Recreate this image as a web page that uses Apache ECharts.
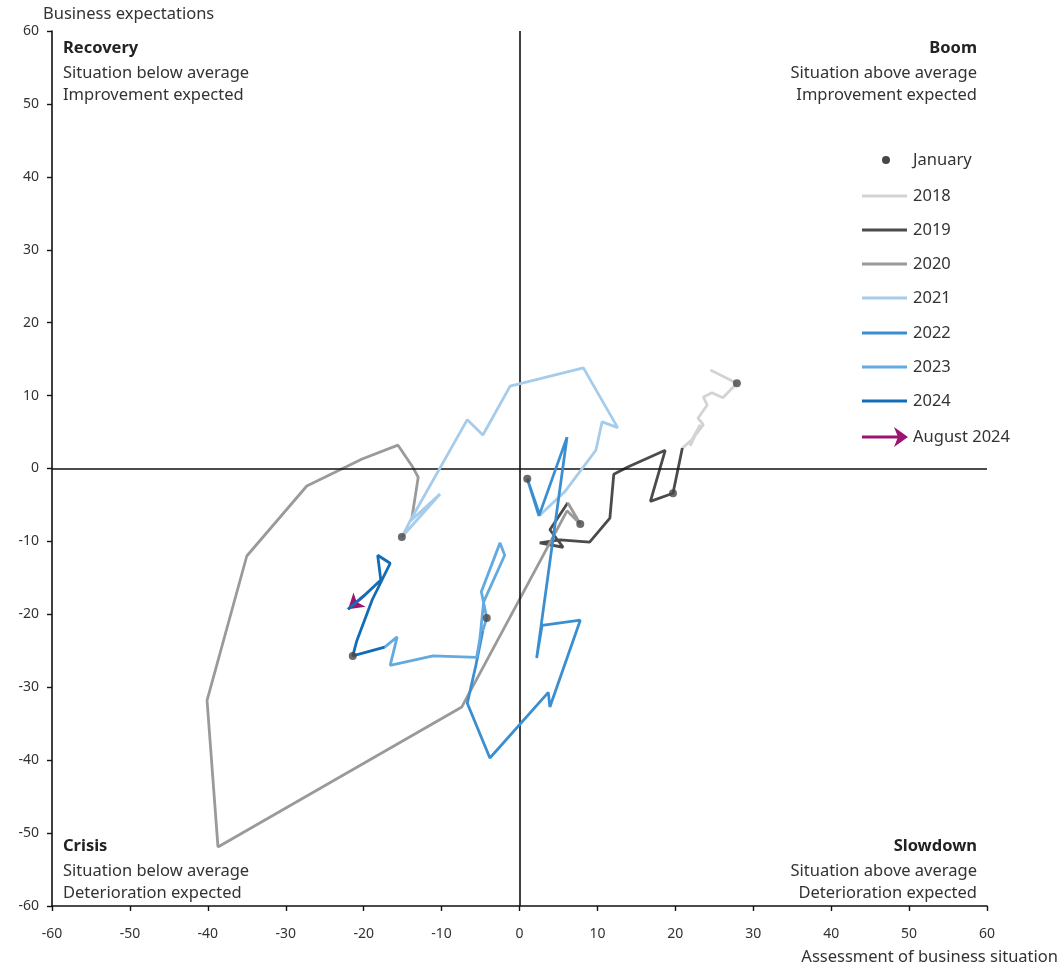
<!DOCTYPE html>
<html><head><meta charset="utf-8">
<script src="https://cdn.jsdelivr.net/npm/echarts@6/dist/echarts.min.js"></script>
<style>html,body{margin:0;padding:0;background:#fff}#c{width:1063px;height:970px}</style>
</head><body><div id="c"></div>
<script>
// [assessment of business situation, business expectations], monthly, Jan..Dec
const dec2017 = [24.5, 13.5];
const y2018 = [[27.9,11.7],[26.1,9.7],[24.7,10.4],[23.6,9.8],[24.1,8.7],[22.9,6.9],[23.6,6.0],[22.1,3.9],[23.2,6.0],[21.9,3.1],[22.4,4.2],[20.9,2.8]];
const y2019 = [[19.7,-3.4],[16.8,-4.5],[18.7,2.5],[13.9,0.2],[12.1,-0.8],[11.6,-6.8],[9.0,-10.1],[5.2,-9.8],[2.6,-10.2],[5.6,-10.8],[3.9,-8.4],[6.2,-4.7]];
const y2020 = [[7.8,-7.6],[6.1,-5.8],[-7.4,-32.7],[-38.7,-51.9],[-40.1,-31.8],[-35.0,-12.0],[-27.3,-2.4],[-20.2,1.3],[-15.6,3.2],[-13.7,0.2],[-13.0,-1.2],[-13.8,-6.7]];
const y2021 = [[-15.1,-9.4],[-10.2,-3.5],[-14.1,-7.3],[-6.7,6.7],[-4.7,4.6],[-1.2,11.3],[8.2,13.8],[12.6,5.6],[10.6,6.4],[9.8,2.5],[5.8,-3.2],[2.6,-6.4]];
const y2022 = [[1.0,-1.4],[2.5,-6.5],[6.1,4.3],[2.2,-26.0],[2.9,-21.5],[7.8,-20.8],[3.9,-32.7],[3.7,-30.7],[-3.8,-39.7],[-6.7,-32.2],[-5.6,-27.0],[-4.7,-22.2]];
const y2023 = [[-4.2,-20.5],[-4.9,-16.9],[-2.5,-10.2],[-1.9,-11.9],[-4.6,-18.3],[-5.1,-23.5],[-5.5,-25.9],[-11.1,-25.7],[-16.6,-27.0],[-15.7,-23.1],[-17.3,-24.5]];
const y2024 = [[-21.4,-25.7],[-20.9,-23.7],[-18.9,-18.0],[-16.6,-13.0],[-18.2,-11.9],[-17.8,-15.3],[-19.9,-17.4],[-22.0,-19.3]];

const years = ['2018','2019','2020','2021','2022','2023','2024'];
const yearData = [y2018, y2019, y2020, y2021, y2022, y2023, y2024];
const yearColors = ['#d3d3d3','#4b4b4b','#9a9a9a','#a5cceb','#3b8fd0','#62aadf','#136db6'];
const arrowColor = '#9c1470';
const janColor = '#474747';
const tickValues = [-60,-50,-40,-30,-20,-10,0,10,20,30,40,50,60];

const FONT = 'Noto Sans';
const TXT = '#333';
const FS = 16.5;

const chart = echarts.init(document.getElementById('c'), null, {renderer:'canvas'});

const series = [];
// cross lines at zero
series.push({
  type:'line', data:[], silent:true, z:1,
  markLine:{silent:true, symbol:'none', label:{show:false},
    lineStyle:{color:'#111', width:1.6, type:'solid'},
    data:[{xAxis:0},{yAxis:0}], animation:false}
});
yearData.forEach((d,i)=>{
  const prev = i===0 ? dec2017 : yearData[i-1][yearData[i-1].length-1];
  series.push({
    name: years[i], type:'line', data:[prev].concat(d), showSymbol:false, symbol:'none',
    lineStyle:{color:yearColors[i], width:2.8}, z:2+i, animation:false, silent:true
  });
});
const last = y2024[y2024.length-1], prevLast = y2024[y2024.length-2];
series.push({
  name:'August 2024', type:'line', data:[], z:10,
  markLine:{silent:true, symbol:['none','arrow'], symbolSize:[14,15], label:{show:false},
    lineStyle:{color:arrowColor, width:2.8, type:'solid'},
    data:[[{coord:prevLast},{coord:last}]], animation:false}
});
series.push({
  name:'January', type:'scatter', data: yearData.map(d=>d[0]), symbolSize:8,
  itemStyle:{color:janColor}, z:11, animation:false, silent:true
});

// legend via graphic
const legX0 = 862, legX1 = 907, legTX = 913;
const legY = [196,230,264,298,333,367,401];
const graphic = [];
const font = (b)=>(b?'bold ':'')+FS+'px "'+FONT+'"';
graphic.push({type:'circle', shape:{cx:886, cy:160, r:4}, style:{fill:janColor}});
graphic.push({type:'text', x:legTX, y:160, style:{text:'January', font:font(false), fill:TXT, verticalAlign:'middle'}});
years.forEach((y,i)=>{
  graphic.push({type:'line', shape:{x1:legX0,y1:legY[i],x2:legX1,y2:legY[i]}, style:{stroke:yearColors[i], lineWidth:3.2}});
  graphic.push({type:'text', x:legTX, y:legY[i], style:{text:y, font:font(false), fill:TXT, verticalAlign:'middle'}});
});
graphic.push({type:'line', shape:{x1:legX0,y1:437,x2:legX1-5,y2:437}, style:{stroke:arrowColor, lineWidth:3.2}});
graphic.push({type:'polygon', shape:{points:[[legX1-13,427],[legX1+1,437],[legX1-13,447],[legX1-9,437]]}, style:{fill:arrowColor}});
graphic.push({type:'text', x:legTX, y:437, style:{text:'August 2024', font:font(false), fill:TXT, verticalAlign:'middle'}});

// quadrant labels
const lineOffsets = [0, 25, 47];
function quad(x, y, lines, align){
  lines.forEach((t,k)=>{
    graphic.push({type:'text', x:x, y:y+lineOffsets[k], style:{text:t, font:font(k===0), fill:k===0?'#222':TXT, align:align, verticalAlign:'middle'}});
  });
}
quad(63, 48, ['Recovery','Situation below average','Improvement expected'], 'left');
quad(977, 48, ['Boom','Situation above average','Improvement expected'], 'right');
quad(63, 846, ['Crisis','Situation below average','Deterioration expected'], 'left');
quad(977, 846, ['Slowdown','Situation above average','Deterioration expected'], 'right');
// axis titles
graphic.push({type:'text', x:43, y:14, style:{text:'Business expectations', font:font(false), fill:TXT, verticalAlign:'middle'}});
graphic.push({type:'text', x:1058, y:957, style:{text:'Assessment of business situation', font:font(false), fill:TXT, align:'right', verticalAlign:'middle'}});

const axisCommon = {
  type:'value', min:-60, max:60, interval:10,
  axisLine:{show:true, onZero:false, lineStyle:{color:'#111', width:1.6}},
  axisTick:{show:true, length:5, lineStyle:{color:'#111', width:1.4}},
  axisLabel:{color:TXT, fontFamily:FONT, fontSize:14, customValues: tickValues},
  splitLine:{show:false}
};

chart.setOption({
  animation:false,
  backgroundColor:'#fff',
  grid:{left:52, right:76, top:31, bottom:64, containLabel:false},
  xAxis: Object.assign({}, axisCommon, {position:'bottom', axisLabel:Object.assign({}, axisCommon.axisLabel, {margin:21})}),
  yAxis: Object.assign({}, axisCommon, {position:'left', axisLabel:Object.assign({}, axisCommon.axisLabel, {margin:13})}),
  series: series,
  graphic: graphic
});
</script></body></html>
